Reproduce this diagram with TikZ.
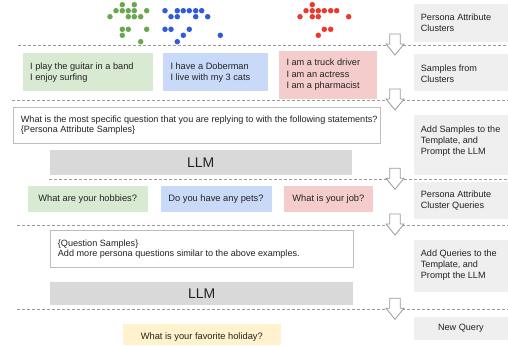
\documentclass[tikz,border=0pt]{standalone}
\usepackage{fontspec}
\setmainfont{Liberation Sans}
\definecolor{dgreen}{HTML}{6AA84F}
\definecolor{dblue}{HTML}{2F5CD6}
\definecolor{dred}{HTML}{EA3A2E}
\definecolor{fgreen}{HTML}{D9EAD3}
\definecolor{fblue}{HTML}{C9DAF8}
\definecolor{fred}{HTML}{F4CCCC}
\definecolor{fyellow}{HTML}{FFF2CC}
\definecolor{fllm}{HTML}{D9D9D9}
\definecolor{fpanel}{HTML}{EFEFEF}
\definecolor{bordc}{HTML}{BDBDBD}
\definecolor{dashc}{HTML}{9A9A9A}
\definecolor{textc}{HTML}{222222}
\begin{document}
\begin{tikzpicture}[x=1pt,y=-1pt,
  boxbase/.style={anchor=north west, inner sep=0pt, draw=none},
  samplebox/.style={boxbase, fill=#1},
  tplbox/.style={boxbase, draw=bordc, line width=0.8pt, fill=white},
  llmbox/.style={boxbase, fill=fllm},
  panelbox/.style={boxbase, fill=fpanel},
  txt/.style={text=textc, inner sep=0pt, align=left, font=\fontsize{9.2}{11.7}\selectfont},
  qtxt/.style={text=textc, inner sep=0pt, align=left, font=\fontsize{9.3}{11.7}\selectfont},
  paneltxt/.style={text=textc, inner sep=0pt, align=left, font=\fontsize{9.1}{11}\selectfont},
  tpltxt/.style={text=textc, inner sep=0pt, align=left, font=\fontsize{9.1}{10.2}\selectfont},
  llmtxt/.style={text=textc, inner sep=0pt, font=\fontsize{14}{16}\selectfont},
  sep/.style={draw=dashc, line width=0.7pt, dash pattern=on 3pt off 2pt},
  blockarrow/.style={fill=white, draw=dashc, line width=0.8pt, line join=miter}
]
\useasboundingbox (0,0) rectangle (508,345);

% separators
\coordinate (s1a) at (18,45);   \coordinate (s1b) at (508,45);
\coordinate (s2a) at (12,100);  \coordinate (s2b) at (508,100);
\coordinate (s3a) at (49,179.3);\coordinate (s3b) at (508,179.3);
\coordinate (s4a) at (17,225);  \coordinate (s4b) at (508,225);
\coordinate (s5a) at (17,309.3);\coordinate (s5b) at (508,309.3);
\foreach \i in {1,...,5} \draw[sep] (s\i a) -- (s\i b);

% dot clusters
\foreach \p in {(122.3,4.7),(134.3,4.7),(116,10.7),(122.3,10.7),(128.3,10.7),(134.3,10.7),(146.7,10.7),(110,16.7),(128.3,16.7),(134.3,16.7),(140.7,16.7),(122.3,29.3),(128.3,29.3),(146.7,29.3),(122.3,35.3),(140.7,41.7)}
  \fill[dgreen] \p circle (2.75pt);
\foreach \p in {(165,10.7),(177.3,10.7),(183.3,10.7),(189.3,10.7),(195.7,10.7),(201.7,10.7),(171,16.7),(177.3,16.7),(195.7,16.7),(207.7,16.7),(165,29.3),(171,29.3),(189.3,29.3),(183.3,35.3),(220.3,35.3),(177.3,41.7)}
  \fill[dblue] \p circle (2.75pt);
\foreach \p in {(312.3,4.7),(306,10.7),(312.3,10.7),(318.3,10.7),(324.3,10.7),(330.7,10.7),(336.7,10.7),(300,16.7),(312.3,16.7),(318.3,16.7),(348.7,16.7),(324.3,29.3),(330.7,29.3),(318.3,35.3)}
  \fill[dred] \p circle (2.75pt);

% samples
\node[samplebox=fgreen, minimum width=129.6pt, minimum height=37.4pt] (sg) at (22.7,53.3) {};
\node[txt, anchor=west] (sgt) at (30,72.7) {I play the guitar in a band\\I enjoy surfing};
\node[samplebox=fblue, minimum width=104.3pt, minimum height=37.4pt] (sb) at (163,53.3) {};
\node[txt, anchor=west] (sbt) at (170.3,72.7) {I have a Doberman\\I live with my 3 cats};
\node[samplebox=fred, minimum width=97.7pt, minimum height=48pt] (sr) at (279,50.7) {};
\node[txt, anchor=west] (srt) at (286.3,74.7) {I am a truck driver\\I am an actress\\I am a pharmacist};

% template 1 + LLM
\node[tplbox, minimum width=367.3pt, minimum height=36.6pt] (t1) at (12.7,106.7) {};
\node[tpltxt, anchor=west] (t1t) at (20.7,125) {What is the most specific question that you are replying to with the following statements?\\\{Persona Attribute Samples\}};
\node[llmbox, minimum width=302.4pt, minimum height=25pt] (l1) at (49.3,150) {};
\node[llmtxt] (l1t) at (l1.center) {LLM};

% queries
\node[samplebox=fgreen, minimum width=120.4pt, minimum height=25.7pt] (qg) at (27.3,186) {};
\node[qtxt] (qgt) at (qg.center) {What are your hobbies?};
\node[samplebox=fblue, minimum width=111pt, minimum height=25.7pt] (qb) at (160.3,186) {};
\node[qtxt] (qbt) at (qb.center) {Do you have any pets?};
\node[samplebox=fred, minimum width=88.3pt, minimum height=25.7pt] (qr) at (284,186) {};
\node[qtxt] (qrt) at (qr.center) {What is your job?};

% template 2 + LLM
\node[tplbox, minimum width=303.3pt, minimum height=37.3pt] (t2) at (50,230) {};
\node[tpltxt, anchor=west] (t2t) at (57.7,249.3) {\{Question Samples\}\\Add more persona questions similar to the above examples.};
\node[llmbox, minimum width=303pt, minimum height=22.6pt] (l2) at (50,281.7) {};
\node[llmtxt] (l2t) at (l2.center) {LLM};

% new query
\node[samplebox=fyellow, minimum width=158.3pt, minimum height=21pt] (ny) at (122.7,324) {};
\node[qtxt] (nyt) at (201.8,337) {What is your favorite holiday?};

% right panel
\node[panelbox, minimum width=94.7pt, minimum height=37.7pt] (p1) at (413.3,4) {};
\node[paneltxt, anchor=west] (p1t) at (420.7,22.8) {Persona Attribute\\Clusters};
\node[panelbox, minimum width=94.7pt, minimum height=36.7pt] (p2) at (413.3,54) {};
\node[paneltxt, anchor=west] (p2t) at (420.7,73.7) {Samples from\\Clusters};
\node[panelbox, minimum width=94.7pt, minimum height=60pt] (p3) at (413.3,115) {};
\node[paneltxt, anchor=west] (p3t) at (420.7,140.8) {Add Samples to the\\Template, and\\Prompt the LLM};
\node[panelbox, minimum width=94.7pt, minimum height=37pt] (p4) at (413.3,182) {};
\node[paneltxt, anchor=west] (p4t) at (420.7,200.5) {Persona Attribute\\Cluster Queries};
\node[panelbox, minimum width=94.7pt, minimum height=51.7pt] (p5) at (413.3,240) {};
\node[paneltxt, anchor=west] (p5t) at (420.7,265) {Add Queries to the\\Template, and\\Prompt the LLM};
\node[panelbox, minimum width=94.7pt, minimum height=22.6pt] (p6) at (413.3,316.7) {};
\node[paneltxt] (p6t) at (p6.center) {New Query};

% block arrows
\foreach \d in {45,100,179.3,225,309.3}
  \draw[blockarrow] (389.7,{\d-11}) -- (400.3,{\d-11}) -- (400.3,{\d-1}) -- (404,{\d-1})
     -- (395,{\d+10}) -- (386,{\d-1}) -- (389.7,{\d-1}) -- cycle;
\end{tikzpicture}
\end{document}
